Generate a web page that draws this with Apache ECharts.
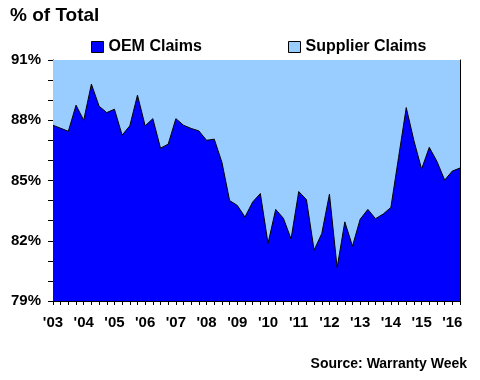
<!DOCTYPE html>
<html>
<head>
<meta charset="utf-8">
<script src="https://cdn.jsdelivr.net/npm/echarts@6/dist/echarts.min.js"></script>
<style>html,body{margin:0;padding:0;background:#fff;}#c{width:480px;height:380px;}</style>
</head>
<body>
<div id="c"></div>
<script>
const years = ['03','04','05','06','07','08','09','10','11','12','13','14','15','16'];
const quarterCount = 54; // 2003 Q1 .. 2016 Q2
const categories = [];
for (let i = 0; i < quarterCount; i++) {
  categories.push(years[Math.floor(i / 4)] + 'Q' + (i % 4 + 1));
}
const oemClaims = [87.75,87.6,87.45,88.75,88.0,89.8,88.7,88.38,88.55,87.26,87.72,89.25,87.72,88.08,86.61,86.81,88.08,87.75,87.59,87.47,87.0,87.06,85.9,84.0,83.76,83.18,83.93,84.35,81.87,83.56,83.12,82.09,84.45,84.05,81.53,82.36,84.32,80.66,82.94,81.73,83.07,83.56,83.1,83.33,83.66,86.15,88.63,86.98,85.57,86.65,85.95,85.02,85.47,85.62];
// supplier share is the complement of the OEM share
const supplierClaims = oemClaims.map(v => +(100 - v).toFixed(2));
const yMin = 79, yMax = 91, yStep = 3;

const FONT = '"Liberation Sans", Arial, sans-serif';
const chart = echarts.init(document.getElementById('c'), null, {renderer: 'canvas'});
chart.setOption({
  animation: false,
  backgroundColor: '#ffffff',
  title: {
    text: '% of Total', left: 10, top: 6, padding: 0,
    textStyle: {fontFamily: FONT, fontWeight: 'bold', fontSize: 19, color: '#000'}
  },
  graphic: [{
    type: 'text', right: 13, top: 357,
    style: {text: 'Source: Warranty Week', fontFamily: FONT, fontWeight: 'bold', fontSize: 14, fill: '#000'}
  }],
  legend: [
    {data: ['OEM Claims'], left: 91, top: 39, padding: 0, icon: 'rect', itemWidth: 12, itemHeight: 11, itemGap: 5,
     itemStyle: {borderColor: '#000', borderWidth: 1},
     textStyle: {fontFamily: FONT, fontWeight: 'bold', fontSize: 16, color: '#000'}},
    {data: ['Supplier Claims'], left: 288, top: 39, padding: 0, icon: 'rect', itemWidth: 12, itemHeight: 11, itemGap: 5,
     itemStyle: {borderColor: '#000', borderWidth: 1},
     textStyle: {fontFamily: FONT, fontWeight: 'bold', fontSize: 16, color: '#000'}}
  ],
  grid: {left: 53, right: 20, top: 60, bottom: 79, containLabel: false},
  xAxis: {
    type: 'category', data: categories, boundaryGap: false,
    axisLine: {show: true, lineStyle: {color: '#000', width: 1}},
    axisTick: {show: true, interval: 0, length: 4, lineStyle: {color: '#000'}},
    axisLabel: {
      interval: 3, margin: 14, color: '#000',
      fontFamily: FONT, fontWeight: 'bold', fontSize: 15,
      formatter: v => "'" + v.slice(0, 2)
    },
    splitLine: {show: false}
  },
  yAxis: [{
    type: 'value', min: yMin, max: yMax, interval: yStep,
    axisLine: {show: true, lineStyle: {color: '#000', width: 1}},
    axisTick: {show: true, length: 5, lineStyle: {color: '#000'}},
    minorTick: {show: true, splitNumber: 3, length: 5, lineStyle: {color: '#000'}},
    axisLabel: {margin: 12, color: '#000', fontFamily: FONT, fontWeight: 'bold', fontSize: 15,
      formatter: v => v + '%'},
    splitLine: {show: false}
  }, {
    type: 'value', position: 'right', min: yMin, max: yMax, interval: yStep,
    axisLine: {show: true, lineStyle: {color: '#000', width: 1}},
    axisTick: {show: false}, axisLabel: {show: false}, splitLine: {show: false}
  }],
  series: [{
    name: 'OEM Claims', type: 'line', stack: 'total', data: oemClaims,
    symbol: 'none', lineStyle: {color: '#000', width: 1},
    itemStyle: {color: '#0000ff'},
    areaStyle: {color: '#0000ff', opacity: 1, origin: 'start'}, z: 3
  }, {
    name: 'Supplier Claims', type: 'line', stack: 'total', data: supplierClaims,
    symbol: 'none', lineStyle: {width: 0},
    itemStyle: {color: '#99ccff'},
    areaStyle: {color: '#99ccff', opacity: 1}, z: 2
  }]
});
</script>
</body>
</html>
